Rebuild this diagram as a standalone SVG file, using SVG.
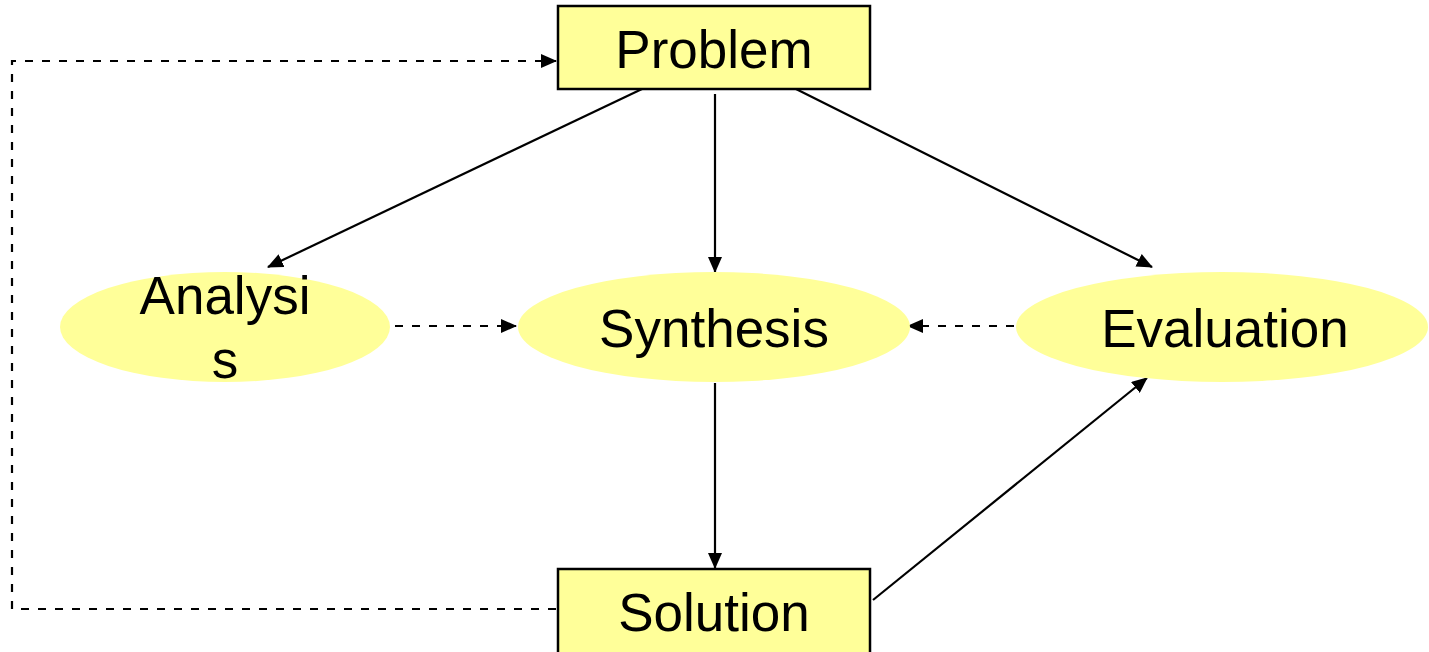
<svg xmlns="http://www.w3.org/2000/svg" width="1429" height="652" viewBox="0 0 1429 652">
<style>
.box{fill:#ffff99;stroke:#000;stroke-width:2.5}
.ell{fill:#ffff99;stroke:none}
.lbl{font-family:"Liberation Sans",Arial,sans-serif;font-size:53px;fill:#000;text-anchor:middle}
.c{stroke:#000;stroke-width:2.2;fill:none;marker-end:url(#ah)}
.d{stroke:#000;stroke-width:2.2;fill:none;stroke-dasharray:8 9}
</style>
<defs>
<marker id="ah" markerUnits="userSpaceOnUse" markerWidth="16" markerHeight="14" refX="15" refY="7" orient="auto">
<path d="M0,0 L16,7 L0,14 Z" fill="#000"/>
</marker>
</defs>
<g id="connectors">
<line class="c" x1="642" y1="89" x2="268" y2="267"/>
<line class="c" x1="715" y1="94" x2="715" y2="272"/>
<line class="c" x1="796" y1="89" x2="1152" y2="267"/>
<line class="c" x1="715" y1="383" x2="715" y2="568"/>
<line class="c" x1="873" y1="600" x2="1147" y2="378"/>
<line class="d" x1="395" y1="326" x2="516" y2="326" marker-end="url(#ah)"/>
<line class="d" x1="1014" y1="326" x2="908" y2="326" marker-end="url(#ah)"/>
<path class="d" d="M556,609 L12,609 L12,61 L556,61" marker-end="url(#ah)"/>
</g>
<g id="problem">
<rect class="box" x="558" y="6" width="312" height="83"/>
<text class="lbl" x="714" y="68">Problem</text>
</g>
<g id="analysis">
<ellipse class="ell" cx="225" cy="327" rx="165" ry="55"/>
<text class="lbl" x="225" y="314">Analysi</text>
<text class="lbl" x="225" y="378">s</text>
</g>
<g id="synthesis">
<ellipse class="ell" cx="714" cy="327" rx="196" ry="55"/>
<text class="lbl" x="714" y="347">Synthesis</text>
</g>
<g id="evaluation">
<ellipse class="ell" cx="1222" cy="327" rx="206" ry="55"/>
<text class="lbl" x="1225" y="347">Evaluation</text>
</g>
<g id="solution">
<rect class="box" x="558" y="569" width="312" height="90"/>
<text class="lbl" x="714" y="631">Solution</text>
</g>
</svg>
